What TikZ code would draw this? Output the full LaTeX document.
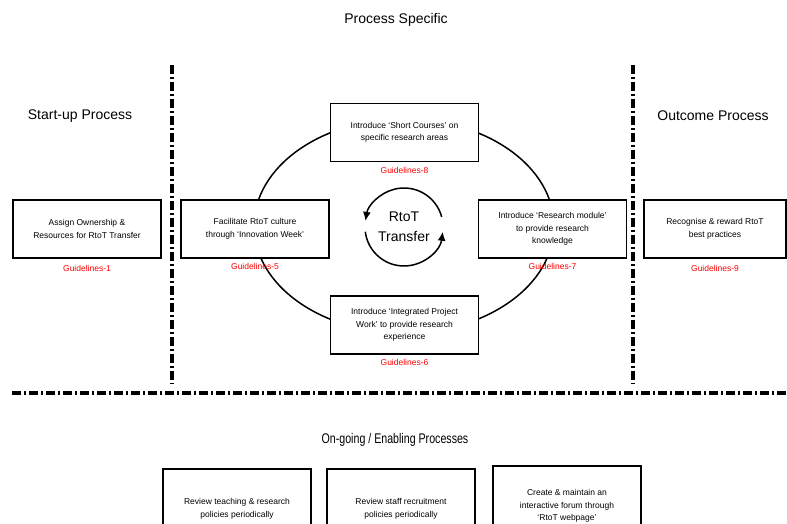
\documentclass[tikz,border=0pt]{standalone}
\usepackage{fontspec}
\setmainfont{Liberation Sans}
\usetikzlibrary{positioning}
\usetikzlibrary{arrows.meta}
\tikzset{x=1pt, y=1pt,
  every node/.style={align=center},
  stage/.style={ % Boxes holding one guideline
    draw, line width=1.5pt, fill=white,
    minimum width=148pt, minimum height=58pt, inner sep=2pt,
    font=\fontsize{8.5}{12.5}\selectfont},
  guide/.style={text=red, inner sep=1pt, font=\fontsize{8.5}{10}\selectfont},
  heading/.style={font=\fontsize{14}{16}\selectfont},
  divider/.style={line width=3.5pt, dash pattern=on 9pt off 3pt on 2pt off 3pt},
  turn/.style={line width=1.5pt, -{Latex[length=9pt, width=8pt]}}}

\begin{document}
\begin{tikzpicture}
  \clip (0,0) rectangle (787,524);

  % headings
  \node [heading] (specific) at (396,504) {Process Specific};
  \node [heading] (startup) at (80,408) {Start-up Process};
  \node [heading] (outcome) at (713,408) {Outcome Process};
  \node [heading, xscale=0.76, transform shape] (ongoing) at (395,84) {On-going / Enabling Processes};

  % dividers between the processes
  \coordinate (lefttop) at (172,459);
  \coordinate (leftbot) at (172,140);
  \coordinate (righttop) at (633,459);
  \coordinate (rightbot) at (633,140);
  \coordinate (lineleft) at (12,131);
  \coordinate (lineright) at (790,131);
  \draw [divider] (lefttop) -- (leftbot);
  \draw [divider] (righttop) -- (rightbot);
  \draw [divider] (lineleft) -- (lineright);

  % the ring through the four middle boxes
  \draw [line width=1.5pt] (404,298) ellipse [x radius=150, y radius=107];

  % start-up
  \node [stage] (ownership) at (87,295) {Assign Ownership \&\\ Resources for RtoT Transfer};
  \node [guide, below=5pt of ownership] (g1) {Guidelines-1};

  % process specific
  \node [stage] (culture) at (255,295) {Facilitate RtoT culture\\ through `Innovation Week'};
  \node [guide, below=3pt of culture] (g5) {Guidelines-5};

  \node [stage] (courses) at (404.5,391.5) {Introduce `Short Courses' on\\ specific research areas};
  \node [guide, below=4pt of courses] (g8) {Guidelines-8};

  \node [stage] (module) at (552.5,295) {Introduce `Research module'\\ to provide research\\ knowledge};
  \node [guide, below=3pt of module] (g7) {Guidelines-7};

  \node [stage] (project) at (404.5,199) {Introduce `Integrated Project\\ Work' to provide research\\ experience};
  \node [guide, below=3pt of project] (g6) {Guidelines-6};

  % outcome
  \node [stage, minimum width=142pt] (reward) at (715,295) {Recognise \& reward RtoT\\ best practices};
  \node [guide, below=5pt of reward] (g9) {Guidelines-9};

  % RtoT Transfer cycle
  \node [font=\fontsize{14}{20}\selectfont] (rtot) at (404,297) {RtoT\\ Transfer};
  \draw [turn] ([shift={(15:39)}]rtot.center) arc [start angle=15, end angle=171, radius=39];
  \draw [turn] ([shift={(187:39)}]rtot.center) arc [start angle=187, end angle=353, radius=39];

  % on-going
  \node [stage, minimum height=80pt] (teaching) at (237,15) {Review teaching \& research\\ policies periodically};
  \node [stage, minimum height=80pt] (staff) at (401,15) {Review staff recruitment\\ policies periodically};
  \node [stage, minimum height=80pt] (forum) at (567,18) {Create \& maintain an\\ interactive forum through\\ `RtoT webpage'};
\end{tikzpicture}
\end{document}
